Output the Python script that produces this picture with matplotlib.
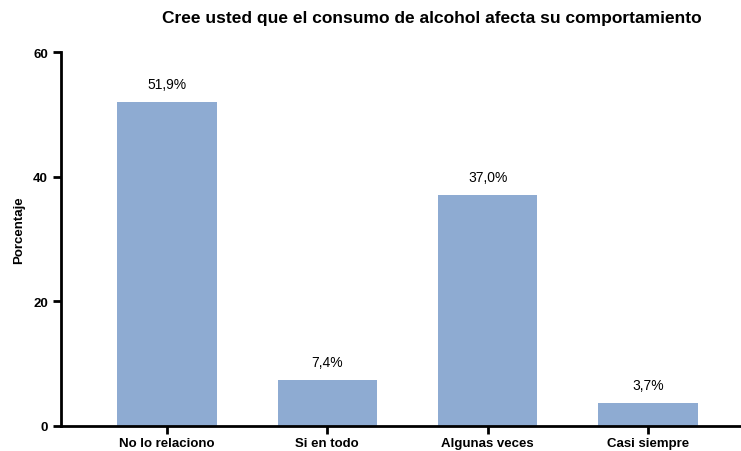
import matplotlib.pyplot as plt
import numpy as np

# datos
categorias = ["No lo relaciono", "Si en todo", "Algunas veces", "Casi siempre"]
porcentajes = [51.9, 7.4, 37.0, 3.7]
etiquetas = ["51,9%", "7,4%", "37,0%", "3,7%"]

plt.rcParams["font.family"] = ["Liberation Sans", "DejaVu Sans"]

fig = plt.figure(figsize=(7.41, 4.52), dpi=100)
ax = fig.add_axes([61/741, 25/452, 680/741, 374/452])

x = np.arange(len(categorias))
ax.bar(x, porcentajes, 0.62, color="#8eabd2")

for xi, v, t in zip(x, porcentajes, etiquetas):
    ax.annotate(t, (xi, v), xytext=(0, 13), textcoords="offset points",
                ha="center", va="center", fontsize=10)

ax.set_xlim(-0.66, 3.58)
ax.set_ylim(0, 60)
ax.set_yticks([0, 20, 40, 60])
ax.set_xticks(x)
ax.set_xticklabels(categorias, fontweight="bold", fontsize=9.5)
for lbl in ax.get_yticklabels():
    lbl.set_fontweight("bold")
    lbl.set_fontsize(9.5)

ax.spines["top"].set_visible(False)
ax.spines["right"].set_visible(False)
ax.spines["left"].set_linewidth(2)
ax.spines["bottom"].set_linewidth(2)
ax.tick_params(width=2, length=6)
ax.tick_params(axis="x", pad=2)

ax.set_ylabel("Porcentaje", fontweight="bold", fontsize=9.5)
ax.yaxis.set_label_coords(-0.053, 0.525)
fig.text(432/741, 1 - 18/452, "Cree usted que el consumo de alcohol afecta su comportamiento",
         ha="center", va="center", fontweight="bold", fontsize=12.5)

fig.savefig("out.png", dpi=100)
